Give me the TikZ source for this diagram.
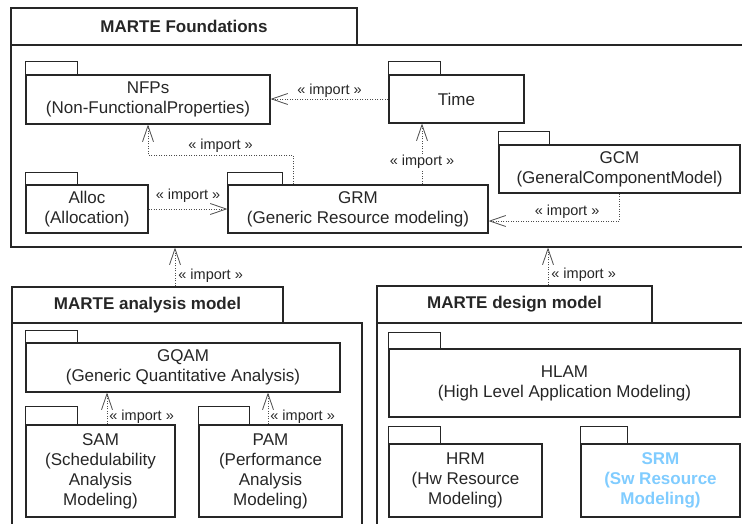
\documentclass[tikz,border=0pt]{standalone}
\usepackage{fontspec}
\setmainfont{Liberation Sans}
\usetikzlibrary{arrows.meta}
\definecolor{srmblue}{RGB}{128,204,255}
\begin{document}
\begin{tikzpicture}[x=1pt,y=-1pt,
pkg/.style={draw=black!85,line width=1.1pt,align=center,inner sep=0pt,text=black!85,font=\fontsize{17}{20}\selectfont},
title/.style={pkg,font=\fontsize{17}{20}\selectfont\bfseries},
imp/.style={draw=black!70,line width=0.8pt,dash pattern=on 1pt off 1.5pt,-{Straight Barb[length=16pt,width=11pt]}},
lbl/.style={font=\fontsize{14.5}{16}\selectfont,text=black!85,inner sep=1pt}]
\useasboundingbox (0,0) rectangle (742,523);
% MARTE Foundations
\node[title,minimum width=346,minimum height=37] (fndtab) at (184,26.5) {MARTE Foundations};
\node[pkg,minimum width=739,minimum height=202] (fnd) at (380.5,146) {};
\node[pkg,minimum width=244,minimum height=49] (nfp) at (148,99.5) {NFPs\\(Non-FunctionalProperties)};
\node[pkg,minimum width=135,minimum height=48] (time) at (456.5,99) {Time};
\node[pkg,minimum width=122,minimum height=48] (alloc) at (87,209) {Alloc\\(Allocation)};
\node[pkg,minimum width=260,minimum height=48] (grm) at (358,209) {GRM\\(Generic Resource modeling)};
\node[pkg,minimum width=241,minimum height=48] (gcm) at (619.5,169) {GCM\\(GeneralComponentModel)};
% analysis model
\node[title,minimum width=271,minimum height=36] (anatab) at (147.5,305) {MARTE analysis model};
\node[pkg,minimum width=350,minimum height=207] (ana) at (187,426.5) {};
\node[pkg,minimum width=314,minimum height=49] (gqam) at (183,367.5) {GQAM\\(Generic Quantitative Analysis)};
\node[pkg,minimum width=149,minimum height=92] (sam) at (100.5,471) {SAM\\(Schedulability\\Analysis\\Modeling)};
\node[pkg,minimum width=143,minimum height=92] (pam) at (270.5,471) {PAM\\(Performance\\Analysis\\Modeling)};
% design model
\node[title,minimum width=275,minimum height=37] (destab) at (514.5,304.5) {MARTE design model};
\node[pkg,minimum width=373,minimum height=207] (des) at (563.5,426.5) {};
\node[pkg,minimum width=351,minimum height=68] (hlam) at (564.5,383) {HLAM\\(High Level Application Modeling)};
\node[pkg,minimum width=153,minimum height=73] (hrm) at (465.5,480.5) {HRM\\(Hw Resource\\Modeling)};
\node[pkg,minimum width=159,minimum height=73,text=srmblue,font=\fontsize{17}{20}\selectfont\bfseries] (srm) at (660.5,480.5) {SRM\\(Sw Resource\\Modeling)};
% package tabs
\foreach \n/\w/\h in {nfp/52/13,time/52/13,alloc/52/12,grm/55/12,gcm/51/13,gqam/52/12,sam/52/18,pam/51/18,hlam/52/16,hrm/52/17,srm/47/17}
  \draw[draw=black!85,line width=1.1pt] (\n.north west) rectangle ++(\w,-\h);
% imports
\draw[imp] (time.west) -- (time.west -| nfp.east) node[lbl,midway,above]{« import »};
\draw[imp] (alloc.east) -- (grm.west) node[lbl,midway,above=5pt]{« import »};
\draw[imp] (grm.north -| 293,0) |- (148,155) node[lbl,pos=0.75,above=1pt]{« import »} -- (nfp.south -| 148,0);
\draw[imp] (grm.north -| 422,0) -- (time.south -| 422,0) node[lbl,pos=0.37,fill=white]{« import »};
\draw[imp] (gcm.south) |- (grm.east |- 0,221) node[lbl,pos=0.7,above=1pt]{« import »};
\draw[imp] (anatab.north -| 175,0) -- (fnd.south -| 175,0) node[lbl,pos=0.27,right=2pt]{« import »};
\draw[imp] (destab.north -| 548,0) -- (fnd.south -| 548,0) node[lbl,pos=0.27,right=2pt]{« import »};
\draw[imp] (sam.north -| 107,0) -- (gqam.south -| 107,0) node[lbl,pos=0.24,right=1pt]{« import »};
\draw[imp] (pam.north -| 268,0) -- (gqam.south -| 268,0) node[lbl,pos=0.24,right=1pt]{« import »};
\end{tikzpicture}
\end{document}
